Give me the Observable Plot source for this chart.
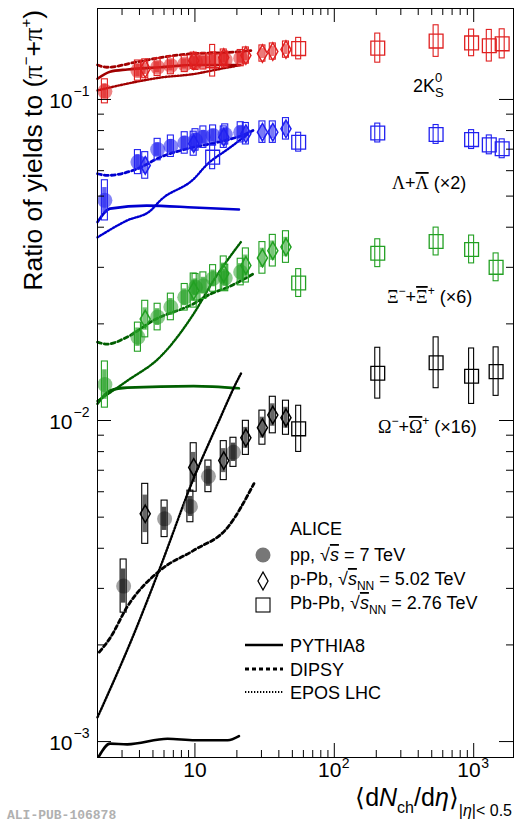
<!DOCTYPE html>
<html><head><meta charset="utf-8">
<script src="https://cdn.jsdelivr.net/npm/d3@7"></script>
<script src="https://cdn.jsdelivr.net/npm/@observablehq/plot@0.6"></script>
<style>body{margin:0;background:#fff}svg{display:block}</style>
</head><body><div id="chart"></div>
<script>
// ---------- multiplicity classes ----------
const xPP = [2.26, 3.90, 5.40, 6.72, 8.45, 10.1, 11.5, 13.5, 16.5, 21.3];
const xPPOmega = [3.08, 6.06, 9.28, 12.5, 18.9];
const xPPb = [4.4, 9.8, 16.1, 23.2, 30.5, 36.2, 45.0];
const xPbPb7 = [13.4, 55.5, 205, 537.5, 966, 1294, 1601];
const xPbPb5 = [55.5, 205, 537.5, 966, 1448];

// ---------- 2K0S ----------
const k0sPPy = [0.106, 0.123, 0.126, 0.1276, 0.129, 0.131, 0.1314, 0.1323, 0.133, 0.1345];
const k0sPPe = [0.09, 0.075, 0.065, 0.065, 0.06, 0.06, 0.06, 0.06, 0.06, 0.06];
const k0sPPby = [0.1246, 0.132, 0.135, 0.137, 0.139, 0.141, 0.143];
const k0sPPbe = [0.07, 0.06, 0.06, 0.06, 0.06, 0.06, 0.06];
const k0sPbPby = [0.132, 0.144, 0.1445, 0.152, 0.150, 0.147, 0.149];
const k0sPbPbe = [0.12, 0.08, 0.11, 0.12, 0.10, 0.12, 0.11];
// ---------- Lambda (x2) ----------
const lamPPy = [0.0485, 0.0638, 0.0698, 0.0715, 0.0732, 0.0748, 0.0763, 0.0772, 0.0778, 0.079];
const lamPPe = [0.155, 0.09, 0.08, 0.08, 0.08, 0.08, 0.08, 0.075, 0.075, 0.075];
const lamPPby = [0.0623, 0.0728, 0.0763, 0.0782, 0.0791, 0.0791, 0.081];
const lamPPbe = [0.1, 0.09, 0.08, 0.08, 0.08, 0.08, 0.08];
const lamPbPby = [0.0661, 0.0736, 0.0786, 0.0778, 0.075, 0.0722, 0.0702];
const lamPbPbe = [0.09, 0.07, 0.07, 0.07, 0.07, 0.07, 0.07];
// ---------- Xi (x6) ----------
const xiPPy = [0.01294, 0.01818, 0.0210, 0.02258, 0.0242, 0.026, 0.0263, 0.0277, 0.0278, 0.029];
const xiPPe = [0.18, 0.11, 0.1, 0.1, 0.1, 0.1, 0.1, 0.1, 0.1, 0.1];
const xiPPby = [0.0207, 0.0254, 0.0287, 0.0304, 0.0321, 0.0338, 0.0347];
const xiPPbe = [0.14, 0.13, 0.13, 0.13, 0.12, 0.12, 0.12];
const xiPbPby = [0.0268, 0.0332, 0.0361, 0.0341, 0.030];
const xiPbPbe = [0.105, 0.105, 0.105, 0.105, 0.105];
// ---------- Omega (x16) ----------
const omPPy = [0.00305, 0.00494, 0.0054, 0.0067, 0.00796];
const omPPe = [0.21, 0.14, 0.12, 0.12, 0.11];
const omPPby = [0.00512, 0.00714, 0.0075, 0.00883, 0.0095, 0.0104, 0.0102];
const omPPbe = [0.24, 0.19, 0.15, 0.13, 0.13, 0.14, 0.13];
const omPbPby = [0.00942, 0.01404, 0.01513, 0.01374, 0.0142];
const omPbPbe = [0.18, 0.2, 0.2, 0.22, 0.19];

// ---------- model curves ----------
const k0sPyX = [2.0, 2.46, 3.27, 5.65, 9.79, 20.7];
const k0sPyY = [0.116, 0.122, 0.124, 0.126, 0.128, 0.128];
const k0sDiX = [2.0, 2.34, 3.85, 5.65, 9.79, 17.2, 25.2];
const k0sDiY = [0.128, 0.126, 0.131, 0.135, 0.139, 0.140, 0.142];
const k0sEpX = [2.0, 3.27, 5.65, 9.79, 15.3, 21.4];
const k0sEpY = [0.1067, 0.112, 0.117, 0.120, 0.1246, 0.128];

const lamPyX = [2.0, 2.46, 4.5, 9.79, 20.7];
const lamPyY = [0.0415, 0.0457, 0.0467, 0.0461, 0.0454];
const lamDiX = [2.0, 2.34, 3.85, 5.65, 9.79, 14.6, 24.0, 26.1];
const lamDiY = [0.0587, 0.058, 0.0608, 0.0661, 0.071, 0.0736, 0.0786, 0.080];
const lamEpX = [2.0, 3.27, 4.79, 5.65, 9.79, 12.34, 17.2, 24.0];
const lamEpY = [0.0372, 0.042, 0.045, 0.0485, 0.0565, 0.063, 0.070, 0.078];

const xiPyX = [2.0, 2.46, 3.27, 9.79, 20.7];
const xiPyY = [0.01127, 0.0124, 0.01266, 0.0128, 0.0126];
const xiDiX = [2.0, 2.34, 3.27, 5.03, 9.79, 13.0, 17.2, 26.5];
const xiDiY = [0.01754, 0.0173, 0.0182, 0.0205, 0.0231, 0.0248, 0.026, 0.0287];
const xiEpX = [2.0, 3.27, 5.65, 9.79, 13.6, 21.4];
const xiEpY = [0.0115, 0.0133, 0.0158, 0.0215, 0.0273, 0.036];

const omPyX = [2.05, 2.46, 3.27, 6.36, 10.0, 17.2, 20.7];
const omPyY = [0.0009, 0.000985, 0.00098, 0.00102, 0.00101, 0.00101, 0.00104];
const omDiX = [2.06, 2.46, 3.27, 5.65, 9.79, 17.2, 26.5];
const omDiY = [0.0019, 0.0021, 0.00263, 0.00342, 0.00394, 0.00465, 0.00636];
const omEpX = [2.0, 3.55, 5.65, 9.79, 14.6, 20.3, 21.4];
const omEpY = [0.00119, 0.0021, 0.0035, 0.0066, 0.0098, 0.0134, 0.0140];

// ---------- axes ----------
const xDomain = [2, 1930];
const yDomain = [0.000892, 0.192];
const xMajor = [10, 100, 1000];
const xMinor = [3,4,5,6,7,8,9,20,30,40,50,60,70,80,90,200,300,400,500,600,700,800,900];
const yMajor = [0.001, 0.01, 0.1];
const yMinor = [0.002,0.003,0.004,0.005,0.006,0.007,0.008,0.009,0.02,0.03,0.04,0.05,0.06,0.07,0.08,0.09];

// ---------- layout ----------
const W = 514, H = 824, mL = 97, mR = 1, mT = 8, mB = 67;
const fW = W - mL - mR, fH = H - mT - mB;
const decadePx = fW / Math.log10(xDomain[1] / xDomain[0]);
const kf = px => Math.pow(10, px / decadePx);
const kBox = kf(3), kBar = kf(2.2), kPb = kf(2.5);
const DASH = "4,3", DOT = "1.3,1.7";

const zip = (xs, ys, es) => xs.map((x, i) => ({x, y: ys[i], e: es ? es[i] : 0}));

const species = [
  {col: "#e02020", line: "#a00000", circ: "#e02020",
   pp: zip(xPP, k0sPPy, k0sPPe), ppb: zip(xPPb, k0sPPby, k0sPPbe), pbpb: zip(xPbPb7, k0sPbPby, k0sPbPbe),
   py: zip(k0sPyX, k0sPyY), di: zip(k0sDiX, k0sDiY), ep: zip(k0sEpX, k0sEpY)},
  {col: "#2020f0", line: "#0000d0", circ: "#2020f0",
   pp: zip(xPP, lamPPy, lamPPe), ppb: zip(xPPb, lamPPby, lamPPbe), pbpb: zip(xPbPb7, lamPbPby, lamPbPbe),
   py: zip(lamPyX, lamPyY), di: zip(lamDiX, lamDiY), ep: zip(lamEpX, lamEpY)},
  {col: "#22a022", line: "#005f00", circ: "#30a030",
   pp: zip(xPP, xiPPy, xiPPe), ppb: zip(xPPb, xiPPby, xiPPbe), pbpb: zip(xPbPb5, xiPbPby, xiPbPbe),
   py: zip(xiPyX, xiPyY), di: zip(xiDiX, xiDiY), ep: zip(xiEpX, xiEpY)},
  {col: "#000000", line: "#000000", circ: "#555555",
   pp: zip(xPPOmega, omPPy, omPPe), ppb: zip(xPPb, omPPby, omPPbe), pbpb: zip(xPbPb5, omPbPby, omPbPbe),
   py: zip(omPyX, omPyY), di: zip(omDiX, omDiY), ep: zip(omEpX, omEpY)}
];

const marks = [];
// model curves
for (const s of species) {
  marks.push(Plot.line(s.py, {x: "x", y: "y", stroke: s.line, strokeWidth: 2.6, curve: "monotone-x"}));
  marks.push(Plot.line(s.di, {x: "x", y: "y", stroke: s.line, strokeWidth: 2.8, strokeDasharray: DASH, curve: "monotone-x"}));
  marks.push(Plot.line(s.ep, {x: "x", y: "y", stroke: s.line, strokeWidth: 2.4, strokeDasharray: DOT, curve: "monotone-x"}));
}
// data
for (const s of species) {
  const box = (k, f) => ({x1: d => d.x / k, x2: d => d.x * k, y1: d => d.y / (1 + f * d.e), y2: d => d.y * (1 + f * d.e)});
  // pp
  marks.push(Plot.dot(s.pp, {x: "x", y: "y", r: 7.5, fill: s.circ, fillOpacity: 0.55, stroke: "none"}));
  marks.push(Plot.rect(s.pp, {...box(kBar, 0.62), fill: s.col, fillOpacity: 0.7}));
  marks.push(Plot.rect(s.pp, {...box(kBox, 1), fill: "none", stroke: s.col, strokeWidth: 1.1}));
  // p-Pb
  marks.push(Plot.rect(s.ppb, {...box(kBar, 0.6), fill: s.col, fillOpacity: 0.6}));
  marks.push(Plot.rect(s.ppb, {...box(kBox, 1), fill: "none", stroke: s.col, strokeWidth: 1.1}));
  marks.push(Plot.dot(s.ppb, {x: "x", y: "y", symbol: "diamond", r: 5.3, fill: "none", stroke: s.col, strokeWidth: 1.5}));
  // Pb-Pb
  marks.push(Plot.rect(s.pbpb, {...box(kPb, 1), fill: "none", stroke: s.col, strokeWidth: 1.1}));
  marks.push(Plot.dot(s.pbpb, {x: "x", y: "y", symbol: "square", r: 7.8, fill: "none", stroke: s.col, strokeWidth: 1.3}));
}
// frame and inward ticks
marks.push(
  Plot.frame({stroke: "black", strokeWidth: 1}),
  Plot.ruleX(xMajor, {x: d => d, insetTop: fH - 14, stroke: "black"}),
  Plot.ruleX(xMajor, {x: d => d, insetBottom: fH - 14, stroke: "black"}),
  Plot.ruleX(xMinor, {x: d => d, insetTop: fH - 7, stroke: "black"}),
  Plot.ruleX(xMinor, {x: d => d, insetBottom: fH - 7, stroke: "black"}),
  Plot.ruleY(yMajor, {y: d => d, insetRight: fW - 14, stroke: "black"}),
  Plot.ruleY(yMajor, {y: d => d, insetLeft: fW - 14, stroke: "black"}),
  Plot.ruleY(yMinor, {y: d => d, insetRight: fW - 7, stroke: "black"}),
  Plot.ruleY(yMinor, {y: d => d, insetLeft: fW - 7, stroke: "black"}),
  // tick labels
  Plot.text(xMajor.filter(d => d === 10), {x: d => d, text: () => "10", frameAnchor: "bottom", dy: 19.5, fontSize: 21}),
  Plot.text(xMajor.filter(d => d > 10), {x: d => d, text: () => "10", frameAnchor: "bottom", textAnchor: "end", dx: 7, dy: 19.5, fontSize: 21}),
  Plot.text(xMajor.filter(d => d > 10), {x: d => d, text: d => String(Math.round(Math.log10(d))), frameAnchor: "bottom", textAnchor: "start", dx: 7.5, dy: 10, fontSize: 14}),
  Plot.text(yMajor, {y: d => d, text: () => "10", frameAnchor: "left", textAnchor: "end", dx: -25, dy: 1.5, fontSize: 21}),
  Plot.text(yMajor, {y: d => d, text: d => "\u2212" + String(Math.round(-Math.log10(d))), frameAnchor: "left", textAnchor: "start", dx: -24, dy: -8, fontSize: 14})
);

const chart = Plot.plot({
  width: W, height: H,
  marginTop: mT, marginRight: mR, marginBottom: mB, marginLeft: mL,
  x: {type: "log", domain: xDomain, axis: null},
  y: {type: "log", domain: yDomain, axis: null},
  style: {fontFamily: "'Liberation Sans', Arial, Helvetica, sans-serif", background: "white", color: "black"},
  marks
});
document.getElementById("chart").appendChild(chart);

// ---------- rich text annotations ----------
const svg = d3.select(chart);
const SERIF = "'Liberation Serif', 'DejaVu Serif', serif";
function rich(parent, x, y, parts, size, anchor) {
  const t = parent.append("text").attr("x", x).attr("y", y).attr("font-size", size)
    .attr("fill", "black").attr("text-anchor", anchor || "start");
  let cur = 0;
  for (const p of parts) {
    const shift = p.dy || 0;
    const ts = t.append("tspan").text(p.t);
    if (shift !== cur) ts.attr("dy", shift - cur);
    cur = shift;
    if (p.size) ts.attr("font-size", p.size);
    if (p.it) ts.attr("font-style", "italic");
    if (p.ov) ts.style("text-decoration", "overline");
    if (p.dx) ts.attr("dx", p.dx);
    if (p.ff) ts.attr("font-family", p.ff);
  }
  return t;
}
// species labels
rich(svg, 413, 92, [{t: "2K"}, {t: "0", size: 13, dy: -10}, {t: "S", size: 13, dy: 5, dx: -7.2}], 18);
rich(svg, 392, 189, [{t: "\u039B", ff: SERIF}, {t: "+"}, {t: "\u039B", ff: SERIF, ov: true}, {t: " (\u00D72)"}], 18);
rich(svg, 387, 303, [{t: "\u039E", ff: SERIF}, {t: "\u2212", size: 12, dy: -8}, {t: "+"}, {t: "\u039E", ff: SERIF, ov: true}, {t: "+", size: 12, dy: -8}, {t: " (\u00D76)"}], 18);
rich(svg, 378, 433, [{t: "\u03A9", ff: SERIF}, {t: "\u2212", size: 12, dy: -8}, {t: "+"}, {t: "\u03A9", ff: SERIF, ov: true}, {t: "+", size: 12, dy: -8}, {t: " (\u00D716)"}], 18);

// legend
rich(svg, 290, 535, [{t: "ALICE"}], 18);
svg.append("circle").attr("cx", 263).attr("cy", 555).attr("r", 7.5).attr("fill", "#777");
rich(svg, 290, 561, [{t: "pp, "}, {t: "\u221A"}, {t: "s", it: true, ov: true}, {t: " = 7 TeV"}], 18);
svg.append("path").attr("d", "M263,572L268,581L263,590L258,581Z").attr("fill", "none").attr("stroke", "black").attr("stroke-width", 1.3);
rich(svg, 290, 585, [{t: "p-Pb, "}, {t: "\u221A"}, {t: "s", it: true, ov: true}, {t: "NN", size: 12, dy: 5}, {t: " = 5.02 TeV"}], 18);
svg.append("rect").attr("x", 256).attr("y", 598).attr("width", 14).attr("height", 14).attr("fill", "none").attr("stroke", "black").attr("stroke-width", 1.1);
rich(svg, 290, 609, [{t: "Pb-Pb, "}, {t: "\u221A"}, {t: "s", it: true, ov: true}, {t: "NN", size: 12, dy: 5}, {t: " = 2.76 TeV"}], 18);

svg.append("line").attr("x1", 245).attr("x2", 283).attr("y1", 645).attr("y2", 645).attr("stroke", "black").attr("stroke-width", 2.6);
svg.append("line").attr("x1", 245).attr("x2", 283).attr("y1", 669).attr("y2", 669).attr("stroke", "black").attr("stroke-width", 2.8).attr("stroke-dasharray", DASH);
svg.append("line").attr("x1", 245).attr("x2", 283).attr("y1", 692).attr("y2", 692).attr("stroke", "black").attr("stroke-width", 2.2).attr("stroke-dasharray", DOT);
rich(svg, 290, 652, [{t: "PYTHIA8"}], 18);
rich(svg, 290, 676, [{t: "DIPSY"}], 18);
rich(svg, 290, 699, [{t: "EPOS LHC"}], 18);

// axis titles
const gy = svg.append("g").attr("transform", "translate(42,10) rotate(-90)");
rich(gy, 0, 0, [{t: "Ratio of yields to ("}, {t: "\u03C0", ff: SERIF}, {t: "\u2212", size: 15, dy: -11}, {t: "+"}, {t: "\u03C0", ff: SERIF}, {t: "+", size: 15, dy: -11}, {t: ")"}], 26.5, "end");
rich(svg, 512, 806, [{t: "\u27E8d"}, {t: "N", it: true}, {t: "ch", size: 16, dy: 7}, {t: "/d"}, {t: "\u03B7", it: true}, {t: "\u27E9"}, {t: "|", size: 16, dy: 10}, {t: "\u03B7", size: 16, dy: 10, it: true}, {t: "|< 0.5", size: 16, dy: 10}], 25, "end");

svg.append("text").attr("x", 7).attr("y", 819).attr("text-anchor", "start").attr("font-family", "'Liberation Mono', 'DejaVu Sans Mono', monospace")
  .attr("font-weight", "bold").attr("font-size", 13).attr("fill", "#b0b0b0").text("ALI-PUB-106878");
</script></body></html>
